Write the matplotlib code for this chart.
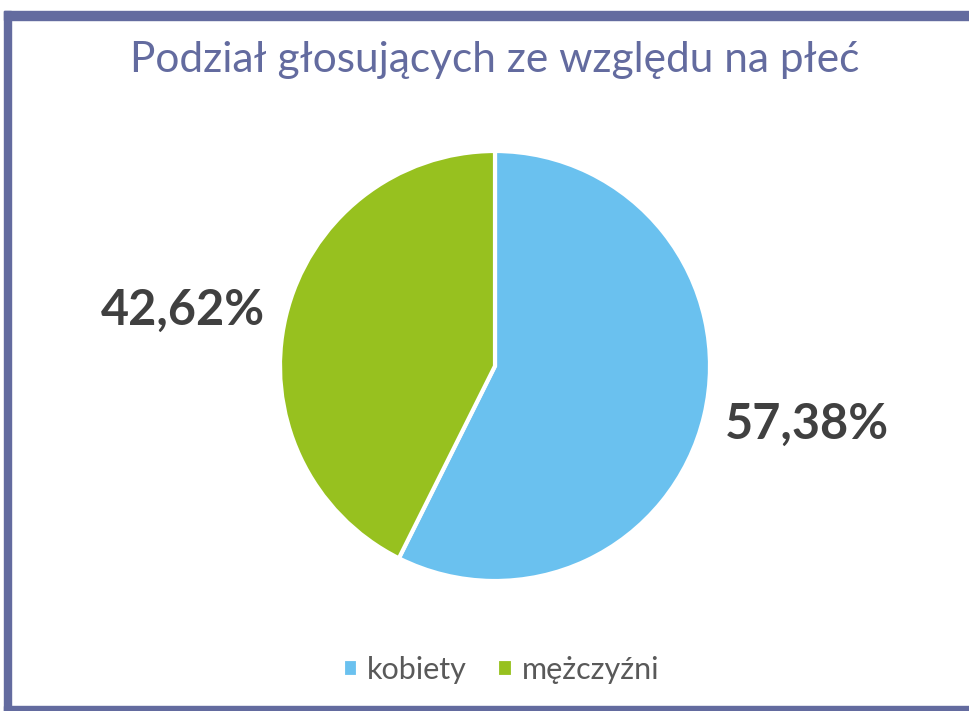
import matplotlib.pyplot as plt
from matplotlib.patches import Rectangle

title = 'Podział głosujących ze względu na płeć'
labels = ['kobiety', 'mężczyźni']
shares = [57.38, 42.62]
colors = ['#6ac1ef', '#97c11f']
frame_color = '#636b9f'

W, H = 970, 711
fig = plt.figure(figsize=(W / 100, H / 100), dpi=100)
fig.patch.set_facecolor('white')

# frame bars (pixel coords from top-left)
def bar(x0, y0, x1, y1):
    fig.patches.append(Rectangle((x0 / W, 1 - y1 / H), (x1 - x0) / W, (y1 - y0) / H,
                                 transform=fig.transFigure, color=frame_color, zorder=0))

bar(4, 11, W, 20)
bar(4, 11, 11, H)
bar(4, 706, W, H)

cx, cy, r = 495, 366, 215
ax = fig.add_axes([(cx - r) / W, (H - cy - r) / H, 2 * r / W, 2 * r / H])
wedges, texts, autotexts = ax.pie(
    shares, colors=colors, startangle=90, counterclock=False, radius=1,
    autopct=lambda p: f'{p:.2f}%'.replace('.', ','),
    wedgeprops=dict(edgecolor='white', linewidth=3),
    textprops=dict(fontsize=35, fontweight='bold', color='#404040', family='Lato'))
# value labels sit outside the pie, a bit off the mid-angle radius
autotexts[0].set_position((1.45, -0.27))
autotexts[1].set_position((-1.45, 0.26))
ax.set_xlim(-1, 1)
ax.set_ylim(-1, 1)
ax.set_aspect('equal')
ax.axis('off')

fig.text(495 / W, 1 - 60 / H, title, ha='center', va='center', fontsize=30.5,
         color=frame_color, family='Lato')

fig.legend(wedges, labels, loc='center', bbox_to_anchor=(501 / W, 1 - 670 / H),
           ncol=2, frameon=False, handlelength=0.5, handleheight=0.5,
           handletextpad=0.3, columnspacing=1.0,
           prop=dict(family='Lato', size=22))
for t in fig.legends[0].get_texts():
    t.set_color('#595959')

fig.savefig('out.png', dpi=100)
